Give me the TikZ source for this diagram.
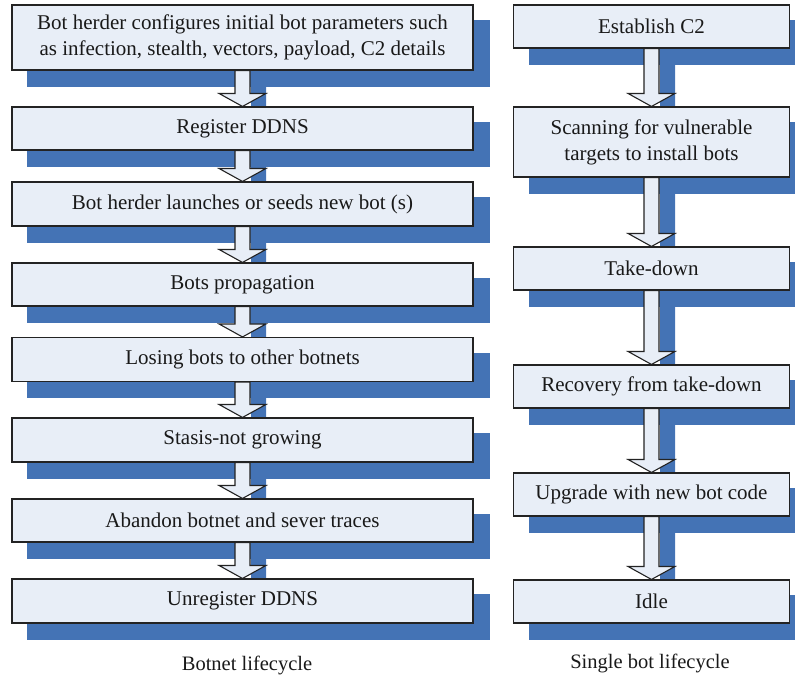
\documentclass[tikz,border=0pt]{standalone}
\usepackage{fontspec}
\setmainfont{Liberation Serif}
\usetikzlibrary{calc}
\definecolor{shadc}{RGB}{68,115,181}
\definecolor{boxc}{RGB}{232,238,247}
\definecolor{edgec}{RGB}{35,35,35}
\pgfdeclarelayer{shad}
\pgfdeclarelayer{arrl}
\pgfsetlayers{shad,arrl,main}
\tikzset{
  lbox/.style={draw=edgec, fill=boxc, line width=1.1pt, inner sep=0pt, align=center,
    font=\fontsize{21}{26}\selectfont, text=black!90},
  arrshape/.style={draw=edgec, fill=boxc, line width=1.1pt},
  caption/.style={font=\fontsize{20.5}{24}\selectfont, text=black!90}
}
\newcommand\boxshadow[1]{%
  \fill[shadc] ($(#1.south west)+(16pt,-16pt)$) rectangle ($(#1.north east)+(16pt,-16pt)$);}
\newcommand\blockarrow[2]{%
  \begin{pgfonlayer}{shad}
  \fill[shadc] let \p1=(#1.south), \p2=(#2.north) in
    (\x1+8.5pt,\y1-16pt) -- (\x1+8.5pt,\y2+13pt-16pt) -- (\x1+39.5pt,\y2+13pt-16pt)
    -- (\x1+16pt,\y2-16pt) -- (\x1-7.5pt,\y2+13pt-16pt) -- (\x1+23.5pt,\y2+13pt-16pt)
    -- (\x1+23.5pt,\y1-16pt) -- cycle;
  \end{pgfonlayer}
  \begin{pgfonlayer}{arrl}
  \draw[arrshape] let \p1=(#1.south), \p2=(#2.north) in
    (\x1-7.5pt,\y1) -- (\x1-7.5pt,\y2+13pt) -- (\x1-23.5pt,\y2+13pt)
    -- (\x1,\y2) -- (\x1+23.5pt,\y2+13pt) -- (\x1+7.5pt,\y2+13pt)
    -- (\x1+7.5pt,\y1) -- cycle;
  \end{pgfonlayer}}
\begin{document}
\begin{tikzpicture}[x=1pt,y=-1pt]
\useasboundingbox (0,0) rectangle (795,678);
% left column (x 12..473)
\node[lbox, minimum width=461pt, minimum height=65pt] (l1) at (242.5,37.5)
  {Bot herder configures initial bot parameters such\\as infection, stealth, vectors, payload, C2 details};
\node[lbox, minimum width=461pt, minimum height=43pt] (l2) at (242.5,128.5) {Register DDNS};
\node[lbox, minimum width=461pt, minimum height=44pt] (l3) at (242.5,204) {Bot herder launches or seeds new bot (s)};
\node[lbox, minimum width=461pt, minimum height=43pt] (l4) at (242.5,284.5) {Bots propagation};
\node[lbox, minimum width=461pt, minimum height=44pt] (l5) at (242.5,359.5) {Losing bots to other botnets};
\node[lbox, minimum width=461pt, minimum height=44pt] (l6) at (242.5,440) {Stasis-not growing};
\node[lbox, minimum width=461pt, minimum height=43pt] (l7) at (242.5,520.5) {Abandon botnet and sever traces};
\node[lbox, minimum width=461pt, minimum height=44pt] (l8) at (242.5,601) {Unregister DDNS};
% right column (x 513..789)
\node[lbox, minimum width=276pt, minimum height=43pt] (r1) at (651.5,26.5) {Establish C2};
\node[lbox, minimum width=276pt, minimum height=70pt] (r2) at (651.5,142) {Scanning for vulnerable\\targets to install bots};
\node[lbox, minimum width=276pt, minimum height=43pt] (r3) at (651.5,268.5) {Take-down};
\node[lbox, minimum width=276pt, minimum height=43pt] (r4) at (651.5,386.5) {Recovery from take-down};
\node[lbox, minimum width=276pt, minimum height=43pt] (r5) at (651.5,494.5) {Upgrade with new bot code};
\node[lbox, minimum width=276pt, minimum height=43pt] (r6) at (651.5,601.5) {Idle};
% captions
\node[caption] (c1) at (247,665) {Botnet lifecycle};
\node[caption] (c2) at (650,663) {Single bot lifecycle};
% shadows
\begin{pgfonlayer}{shad}
\foreach \n in {l1,l2,l3,l4,l5,l6,l7,l8,r1,r2,r3,r4,r5,r6} {\boxshadow{\n}}
\end{pgfonlayer}
% arrows
\blockarrow{l1}{l2}
\blockarrow{l2}{l3}
\blockarrow{l3}{l4}
\blockarrow{l4}{l5}
\blockarrow{l5}{l6}
\blockarrow{l6}{l7}
\blockarrow{l7}{l8}
\blockarrow{r1}{r2}
\blockarrow{r2}{r3}
\blockarrow{r3}{r4}
\blockarrow{r4}{r5}
\blockarrow{r5}{r6}
\end{tikzpicture}
\end{document}
